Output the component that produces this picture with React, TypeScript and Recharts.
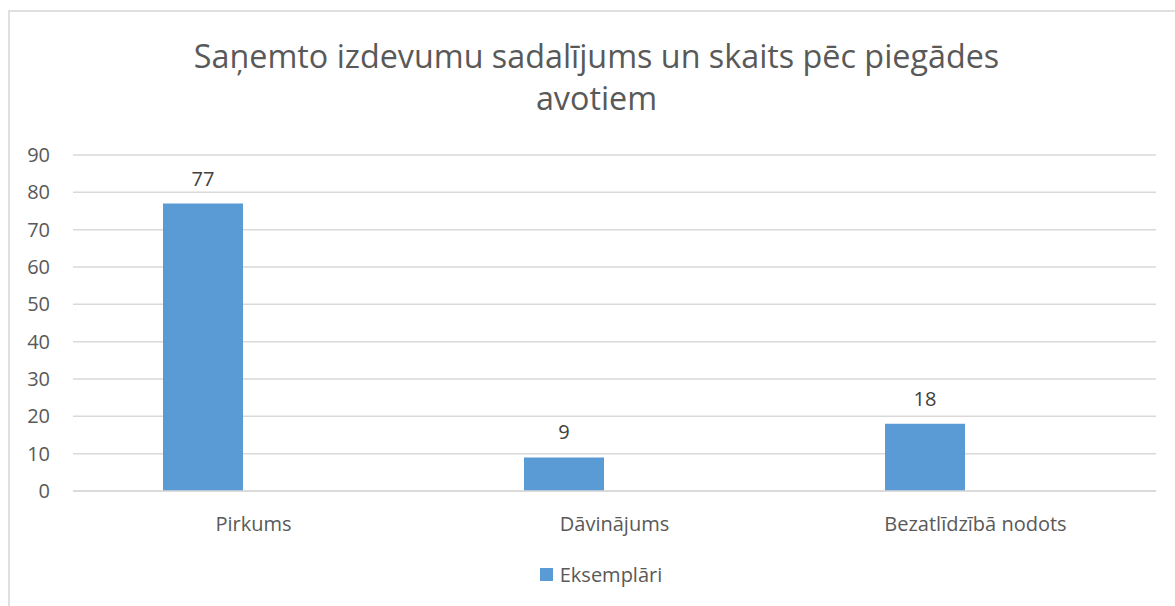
import React from 'react';
import { BarChart, Bar, XAxis, YAxis, CartesianGrid, Legend, LabelList } from 'recharts';

const categories = ['Pirkums', 'Dāvinājums', 'Bezatlīdzībā nodots'];
const eksemplari = [77, 9, 18];
const yTicks = [0, 10, 20, 30, 40, 50, 60, 70, 80, 90];
const seriesName = 'Eksemplāri';
const titleLines = ['Saņemto izdevumu sadalījums un skaits pēc piegādes', 'avotiem'];

const data = categories.map((c, i) => ({ name: c, value: eksemplari[i], blank: null }));

const FONT = "'Open Sans', sans-serif";
const BAR_COLOR = '#5B9BD5';

const LegendContent = () => (
  <div style={{ display: 'flex', justifyContent: 'center', alignItems: 'center', height: 30, paddingLeft: 33, fontFamily: FONT, fontSize: 20, color: '#595959' }}>
    <span style={{ display: 'inline-block', width: 13, height: 13, background: BAR_COLOR, marginRight: 7 }} />
    <span>{seriesName}</span>
  </div>
);

export default function App() {
  return (
    <div style={{ position: 'absolute', left: 0, top: 0, width: 1175, height: 606, overflow: 'hidden', background: '#fff' }}>
      <div style={{ position: 'absolute', left: 8, top: 10, width: 1220, height: 700, border: '2px solid #e0e0e0', boxSizing: 'border-box' }} />
      <div style={{ position: 'absolute', left: 0, top: 34, width: 1193, textAlign: 'center', fontFamily: FONT, fontSize: 32.3, lineHeight: '42px', color: '#595959' }}>
        {titleLines.map((l) => (
          <div key={l}>{l}</div>
        ))}
      </div>
      <div style={{ position: 'absolute', left: 0, top: 0 }}>
        <BarChart width={1175} height={606} data={data} margin={{ top: 155, left: 13, right: 19, bottom: 17 }} barSize={80} barGap={22}>
          <CartesianGrid vertical={false} stroke="#d9d9d9" strokeWidth={1.5} />
          <XAxis dataKey="name" height={68} tickLine={false} tickSize={0} tickMargin={26} axisLine={{ stroke: '#d9d9d9', strokeWidth: 1.5 }} tick={{ fill: '#595959', fontSize: 20, fontFamily: FONT }} />
          <YAxis width={60} domain={[0, 90]} ticks={yTicks} interval={0} axisLine={false} tickLine={false} tickSize={0} tickMargin={23} tick={{ fill: '#595959', fontSize: 20, fontFamily: FONT }} />
          <Legend verticalAlign="bottom" content={<LegendContent />} />
          <Bar dataKey="value" name={seriesName} fill={BAR_COLOR} isAnimationActive={false}>
            <LabelList dataKey="value" position="top" offset={18} fill="#404040" fontSize={20} fontFamily={FONT} />
          </Bar>
          <Bar dataKey="blank" fill={BAR_COLOR} legendType="none" isAnimationActive={false} />
        </BarChart>
      </div>
    </div>
  );
}
